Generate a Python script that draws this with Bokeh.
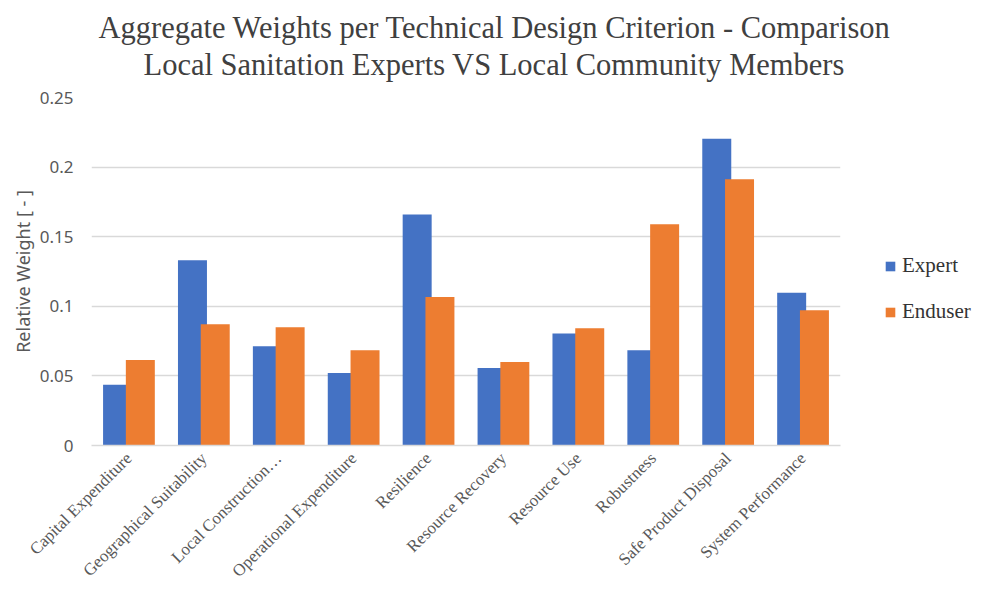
import math
from bokeh.plotting import figure
from bokeh.models import (Range1d, FixedTicker, Legend, LegendItem, Title, FactorRange)
from bokeh.transform import dodge
from bokeh.embed import file_html
from bokeh.resources import INLINE

categories = ["Capital Expenditure", "Geographical Suitability", "Local Construction\u2026",
              "Operational Expenditure", "Resilience", "Resource Recovery", "Resource Use",
              "Robustness", "Safe Product Disposal", "System Performance"]
expert = [0.0436, 0.133, 0.0713, 0.052, 0.166, 0.0556, 0.0804, 0.0685, 0.2204, 0.1098]
enduser = [0.0615, 0.0871, 0.085, 0.0685, 0.1067, 0.060, 0.0843, 0.159, 0.1912, 0.0972]
y_ticks = [0, 0.05, 0.1, 0.15, 0.2, 0.25]
y_tick_labels = ["0", "0.05", "0.1", "0.15", "0.2", "0.25"]
title_lines = ["Aggregate Weights per Technical Design Criterion - Comparison",
               "Local Sanitation Experts VS Local Community Members"]

SERIF = "Liberation Serif"
SANS = "Noto Sans"
GREY = "#595959"

p = figure(frame_width=749, frame_height=348,
           x_range=FactorRange(factors=categories, range_padding=0),
           y_range=Range1d(0, 0.25), output_backend="svg", toolbar_location=None,
           min_border_left=91, min_border_right=132, min_border_top=97, min_border_bottom=0)
p.title.visible = False

src = dict(cat=categories, expert=expert, enduser=enduser)
r1 = p.vbar(x=dodge("cat", -0.152, range=p.x_range), top="expert", width=0.387,
            source=src, fill_color="#4472C4", line_color=None)
r2 = p.vbar(x=dodge("cat", 0.152, range=p.x_range), top="enduser", width=0.387,
            source=src, fill_color="#ED7D31", line_color=None)

p.add_layout(Title(text=title_lines[1], align="left", offset=52, text_font=SERIF,
                   text_font_size="30.5px", text_font_style="normal", text_color="#404040",
                   standoff=31), "above")
p.add_layout(Title(text=title_lines[0], align="left", offset=7, text_font=SERIF,
                   text_font_size="30.5px", text_font_style="normal", text_color="#404040",
                   standoff=-29), "above")

p.outline_line_color = None
p.xgrid.grid_line_color = None
p.ygrid.grid_line_color = "#d9d9d9"
p.ygrid.grid_line_width = 1.3

p.yaxis.ticker = FixedTicker(ticks=y_ticks)
p.yaxis.major_label_overrides = {t: l for t, l in zip(y_ticks, y_tick_labels)}
p.yaxis.axis_line_color = None
p.yaxis.major_tick_line_color = None
p.yaxis.minor_tick_line_color = None
p.yaxis.major_tick_out = 0
p.yaxis.major_tick_in = 0
p.yaxis.major_label_standoff = 18
p.yaxis.major_label_text_font = SANS
p.yaxis.major_label_text_font_size = "17px"
p.yaxis.major_label_text_color = GREY
p.yaxis.axis_label = "Relative Weight [ - ]"
p.yaxis.axis_label_text_font = SANS
p.yaxis.axis_label_text_font_size = "18px"
p.yaxis.axis_label_text_font_style = "normal"
p.yaxis.axis_label_text_color = GREY
p.yaxis.axis_label_standoff = 2

p.xaxis.axis_line_color = "#d9d9d9"
p.xaxis.axis_line_width = 1.3
p.xaxis.major_tick_line_color = None
p.xaxis.minor_tick_line_color = None
p.xaxis.major_tick_out = 0
p.xaxis.major_tick_in = 0
p.xaxis.major_label_orientation = math.pi / 4
p.xaxis.major_label_text_font = SERIF
p.xaxis.major_label_text_font_size = "17px"
p.xaxis.major_label_text_color = GREY
p.xaxis.major_label_standoff = 10

legend = Legend(items=[LegendItem(label="Expert", renderers=[r1]),
                       LegendItem(label="Enduser", renderers=[r2])],
                location=(44, 121), orientation="vertical",
                label_text_font=SERIF, label_text_font_size="21px", label_text_color="#333333",
                glyph_width=12, glyph_height=12, spacing=21, padding=0, margin=0,
                label_standoff=6, border_line_color=None, background_fill_alpha=0)
p.add_layout(legend, "right")

open("out.html", "w").write(file_html(p, INLINE))
